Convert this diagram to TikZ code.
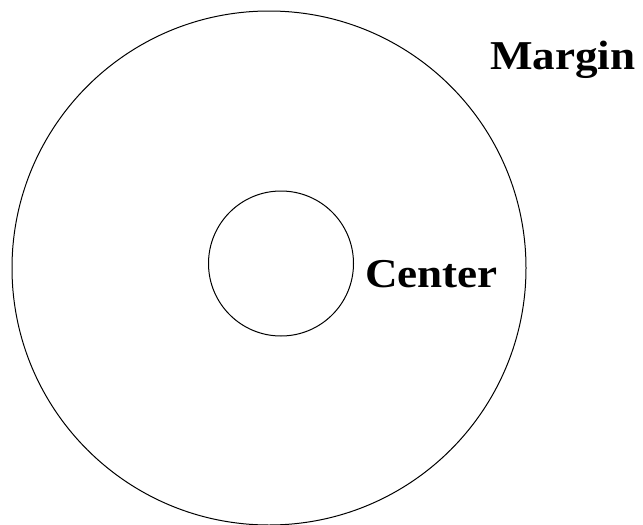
\documentclass[tikz,border=0pt]{standalone}
\usepackage{fontspec}
\setmainfont{Liberation Serif}
\begin{document}
\begin{tikzpicture}[x=1pt,y=-1pt,
  ring/.style={circle,draw=black,line width=1pt,inner sep=0pt},
  lbl/.style={anchor=base west,inner sep=0pt,font=\bfseries\fontsize{41}{45}\selectfont}]
\useasboundingbox (0,0) rectangle (643,525);
\node[ring,minimum size=514pt] (outer) at (269,268) {};
\node[ring,minimum size=145pt] (inner) at (281,263.5) {};
\node[lbl] (margin) at (490,69) {\scalebox{1.1}[1]{Margin}};
\node[lbl] (center) at (365,287) {\scalebox{1.1}[1]{Center}};
\end{tikzpicture}
\end{document}
